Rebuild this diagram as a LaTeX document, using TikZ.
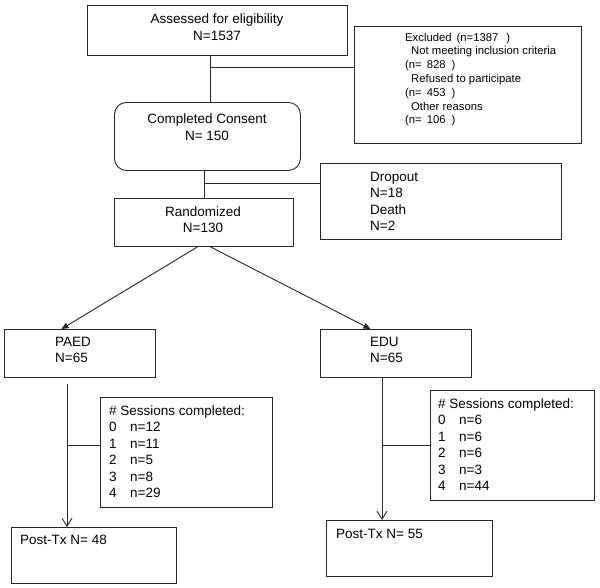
\documentclass[tikz,border=0pt]{standalone}
\usepackage{fontspec}
\setmainfont{Liberation Sans}
\usetikzlibrary{arrows.meta}

\newcommand{\mainsize}{\fontsize{13.5pt}{16.5pt}\selectfont}
\newcommand{\smallsize}{\fontsize{11.3pt}{13.8pt}\selectfont}

\begin{document}
\begin{tikzpicture}[
  x=1pt, y=-1pt,
  box/.style={draw=black!85, line width=0.9pt, anchor=north west, inner sep=0pt},
  lbl/.style={inner sep=0pt, font=\mainsize},
  link/.style={draw=black!85, line width=0.9pt},
  arrow/.style={link, -{Triangle[length=7pt,width=6pt]}},
  vline/.style={link, -{Straight Barb[length=8pt,width=10pt]}}
]
\useasboundingbox (0,0) rectangle (600,587);

% boxes
\node[box, minimum width=260pt, minimum height=50pt] (assess) at (87,5) {};
\node[box, minimum width=227pt, minimum height=117pt] (excluded) at (354,26) {};
\node[box, rounded corners=12pt, minimum width=186pt, minimum height=68pt] (consent) at (114,102) {};
\node[box, minimum width=241pt, minimum height=76pt] (dropout) at (320,163) {};
\node[box, minimum width=179pt, minimum height=48pt] (random) at (114,198) {};
\node[box, minimum width=151pt, minimum height=48pt] (paed) at (4,329) {};
\node[box, minimum width=151pt, minimum height=48pt] (edu) at (320,329) {};
\node[box, minimum width=172pt, minimum height=110pt] (sessA) at (100,397) {};
\node[box, minimum width=164pt, minimum height=110pt] (sessB) at (430,390) {};
\node[box, minimum width=165pt, minimum height=56pt] (postA) at (11,527) {};
\node[box, minimum width=166pt, minimum height=56pt] (postB) at (326,520) {};

% texts
\node[lbl, align=center] (assessLbl) at (217,27) {Assessed for eligibility\\N=1537};
\node[lbl, align=left, anchor=west, font=\smallsize] (excludedLbl) at (405,79.5)
  {Excluded\hspace{5pt}(n=1387\hspace{8pt})\\
   \hspace*{6pt}Not meeting inclusion criteria\\
   (n=\hspace{5pt}828\hspace{6pt})\\
   \hspace*{6pt}Refused to participate\\
   (n=\hspace{5pt}453\hspace{6pt})\\
   \hspace*{6pt}Other reasons\\
   (n=\hspace{5pt}106\hspace{6pt})};
\node[lbl, align=center] (consentLbl) at (207,127) {Completed Consent\\N= 150};
\node[lbl, align=left, anchor=west] (dropoutLbl) at (370,201.5) {Dropout\\N=18\\Death\\N=2};
\node[lbl, align=center] (randomLbl) at (203,219.5) {Randomized\\N=130};
\node[lbl, align=left, anchor=west] (paedLbl) at (55,350) {PAED\\N=65};
\node[lbl, align=left, anchor=west] (eduLbl) at (370,350) {EDU\\N=65};
\node[lbl, align=left, anchor=west] (sessALbl) at (109,451.5)
  {\# Sessions completed:\\0\quad n=12\\1\quad n=11\\2\quad n=5\\3\quad n=8\\4\quad n=29};
\node[lbl, align=left, anchor=west] (sessBLbl) at (438,444.5)
  {\# Sessions completed:\\0\quad n=6\\1\quad n=6\\2\quad n=6\\3\quad n=3\\4\quad n=44};
\node[lbl, anchor=west] (postALbl) at (20,540) {Post-Tx N= 48};
\node[lbl, anchor=west] (postBLbl) at (336,534) {Post-Tx N= 55};

% connectors
\coordinate (jA) at (210,67);
\coordinate (jB) at (204,183);
\coordinate (jL) at (67,445);
\coordinate (jR) at (382,445);

\draw[link] (assess.south -| jA) -- (consent.north -| jA);
\draw[link] (jA) -- (jA -| excluded.west);
\draw[link] (consent.south -| jB) -- (random.north -| jB);
\draw[link] (jB) -- (jB -| dropout.west);
\draw[arrow] ([xshift=-6.5pt]random.south) -- ([xshift=-18.5pt]paed.north);
\draw[arrow] ([xshift=6.5pt]random.south) -- ([xshift=-25.5pt]edu.north);
\draw[vline, shorten <=6pt] (paed.south -| jL) -- (postA.north -| jL);
\draw[link] (jL) -- (jL -| sessA.west);
\draw[vline] (edu.south -| jR) -- (postB.north -| jR);
\draw[link] (jR) -- (jR -| sessB.west);
\end{tikzpicture}
\end{document}
